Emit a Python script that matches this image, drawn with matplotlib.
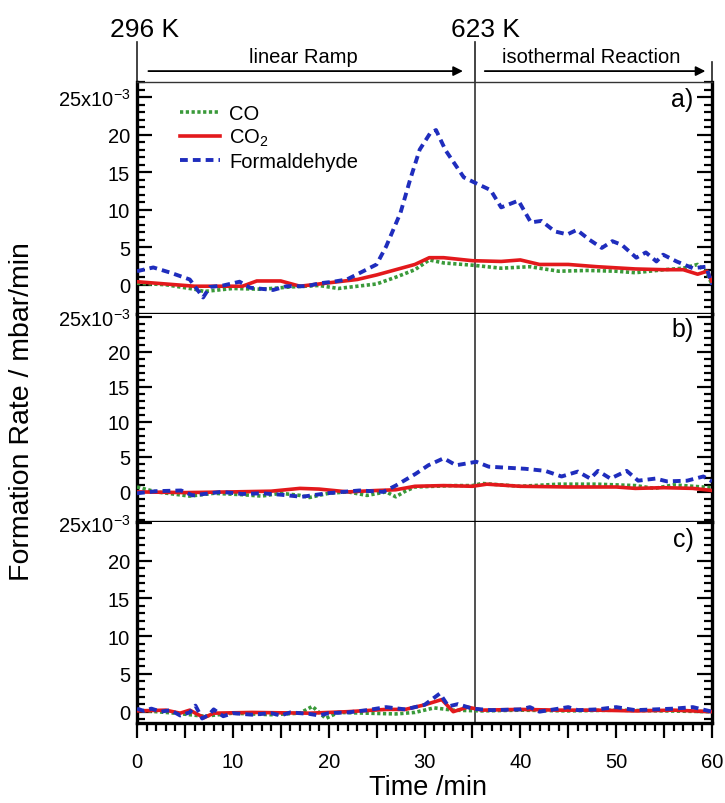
import matplotlib
matplotlib.use("Agg")
import matplotlib.pyplot as plt
from matplotlib.ticker import MultipleLocator, FixedLocator, FixedFormatter, FuncFormatter

plt.rcParams['font.family'] = ['Liberation Sans', 'DejaVu Sans']
plt.rcParams['mathtext.fontset'] = 'custom'
plt.rcParams['mathtext.rm'] = 'Liberation Sans'
plt.rcParams['mathtext.it'] = 'Liberation Sans:italic'
plt.rcParams['mathtext.bf'] = 'Liberation Sans:bold'

# ---- data (values in 1e-3 mbar/min) ----
# panel a
t_a_co = [0, 3, 6, 7, 10, 13, 16, 19, 21, 23, 25, 27, 29, 30.5, 32, 35, 38, 41, 44, 47, 50, 52, 55, 57, 58.5, 59.5, 60]
a_co = [0.2, 0.0, -0.6, -0.9, -0.5, -0.6, -0.3, -0.1, -0.5, -0.2, 0.1, 1.0, 2.0, 3.3, 2.9, 2.6, 2.2, 2.4, 1.8, 1.9, 1.8, 1.6, 2.0, 2.2, 2.7, 1.5, 0.0]
t_a_co2 = [0, 3, 6, 8, 11, 12.5, 15, 17, 19, 21, 23, 25, 27, 29, 30.5, 32, 35, 38, 40, 42, 45, 48, 52, 55, 57, 58.5, 59.5, 60]
a_co2 = [0.4, 0.1, -0.2, -0.2, -0.2, 0.5, 0.5, -0.2, 0.1, 0.4, 0.7, 1.3, 2.0, 2.7, 3.6, 3.6, 3.2, 3.1, 3.3, 2.7, 2.7, 2.4, 2.1, 2.0, 2.0, 1.4, 1.8, 0.4]
t_a_form = [0, 1.7, 3.5, 5.5, 6.9, 7.6, 9, 10.7, 11.8, 14.2, 15.6, 17.7, 19.1, 20.5, 21.9, 23.3, 25, 26, 27.5, 28.5,
            29.5, 30.6, 31.2, 32.2, 34.1, 35.4, 36.9, 38, 39.8, 41.1, 42.2, 43.6, 44.9, 45.9, 47.2, 48.5, 49.6, 50.6,
            52.1, 53.1, 54.2, 54.9, 56.3, 58, 59.4, 60]
a_form = [1.8, 2.3, 1.6, 0.7, -1.7, -0.3, -0.1, 0.4, -0.4, -0.7, -0.2, -0.2, 0.2, 0.4, 0.7, 1.6, 2.7, 5.1, 9.6, 14.0,
          18.0, 20.2, 20.6, 17.9, 14.3, 13.5, 12.6, 10.3, 11.2, 8.3, 8.5, 7.1, 6.7, 7.3, 6.0, 4.9, 5.8, 5.3,
          3.6, 4.3, 3.1, 4.0, 3.1, 2.2, 2.4, 0.0]

# panel b
t_b_co = [0, 2, 5.5, 8, 11, 13, 15, 17, 18, 20, 22, 24, 26, 27, 28, 29, 33, 35, 36, 40, 44, 48, 52, 54, 56, 58, 60]
b_co = [0.7, 0.0, -0.6, -0.2, -0.4, -0.6, -0.2, -0.5, -0.8, -0.2, 0.0, -0.5, 0.0, -0.7, 0.1, 0.7, 0.9, 0.9, 1.2, 0.8, 1.1, 1.1, 0.9, 0.5, 1.0, 0.8, 0.6]
t_b_co2 = [0, 5, 10, 14, 17, 19, 22, 25, 27, 29, 32, 35, 36.5, 40, 45, 50, 52, 55, 58, 60]
b_co2 = [0.0, -0.1, 0.0, 0.1, 0.5, 0.4, 0.0, 0.2, 0.3, 0.8, 0.9, 0.8, 1.1, 0.8, 0.7, 0.7, 0.5, 0.6, 0.5, 0.2]
t_b_form = [0, 2, 4.6, 5.8, 8.8, 11, 13, 15, 17.2, 19.8, 23.2, 25.7, 27, 29.1, 30.4, 32, 33.3, 35.4, 36.7, 40.5,
            42.6, 44.3, 46, 47.3, 48.1, 49.4, 51.1, 52.3, 54.1, 55.3, 57.4, 59.1, 60]
b_form = [-0.2, 0.1, 0.2, -0.5, 0.0, -0.3, -0.2, -0.4, -0.7, -0.2, 0.2, 0.0, 0.9, 2.6, 3.8, 4.8, 3.8, 4.3, 3.6, 3.3,
          3.0, 2.2, 2.9, 1.9, 3.0, 1.9, 3.0, 1.6, 1.9, 1.5, 1.6, 2.2, 1.5]

# panel c
t_c_co = [0, 4, 7, 10, 14, 17, 18.3, 19.7, 21, 24, 27, 29, 31, 33, 36, 40, 45, 50, 55, 60]
c_co = [0.2, -0.2, -0.6, -0.2, -0.4, -0.2, 0.7, -0.9, -0.1, -0.2, -0.3, -0.1, 0.5, 0.2, 0.1, 0.2, 0.1, 0.2, 0.1, 0.0]
t_c_co2 = [0, 3, 4.5, 5.5, 7, 8, 12, 18, 22, 26, 28, 30, 31.8, 33, 34.5, 36, 40, 44, 48, 52, 56, 60]
c_co2 = [0.1, 0.2, -0.2, 0.2, -0.8, -0.2, -0.1, -0.2, 0.0, 0.3, 0.3, 0.9, 1.6, 0.0, 0.6, 0.2, 0.3, 0.2, 0.2, 0.1, 0.2, 0.0]
t_c_form = [0, 0.7, 1.5, 2.5, 3.5, 4.5, 5.5, 6.1, 6.8, 7.5, 8, 9, 10, 12, 14, 15, 16, 18, 19, 20, 22, 24, 26, 28, 30,
            31.6, 32.5, 33.5, 35, 37, 40, 41, 42, 45, 46, 48, 50, 52, 54, 56, 58, 60]
c_form = [0.4, 0.1, 0.4, 0.0, 0.2, -0.5, -0.1, 0.8, -0.9, -0.4, 0.3, -0.6, -0.2, -0.4, -0.2, -0.5, -0.1, -0.3, -0.5, -0.2, -0.1, 0.2, 0.6, 0.3, 0.9,
          2.4, 0.7, 1.0, 0.4, 0.2, 0.3, 0.6, 0.0, 0.6, 0.2, 0.3, 0.6, 0.2, 0.3, 0.4, 0.6, 0.0]

t_switch = 35.3
panel_labels = ['a)', 'b)', 'c)']
ytick_vals = [0, 5, 10, 15, 20, 25]
ytick_text = ['0', '5', '10', '15', '20', '25x10$^{\\mathregular{-3}}$']

green = '#3a9a3a'
red = '#e3191c'
blue = '#1f2dbd'

fig = plt.figure(figsize=(7.25, 8.04), dpi=100)
L, R = 137 / 725, 712 / 725
H = 804.0
edges = [83, 315, 523, 724]
ylims = [(-3.9, 27.0), (-4.3, 25.4), (-1.5, 25.1)]
series = [
    (t_a_co, a_co, t_a_co2, a_co2, t_a_form, a_form),
    (t_b_co, b_co, t_b_co2, b_co2, t_b_form, b_form),
    (t_c_co, c_co, t_c_co2, c_co2, t_c_form, c_form),
]
axes = []
for i in range(3):
    bottom = 1 - edges[i + 1] / H
    height = (edges[i + 1] - edges[i]) / H
    ax = fig.add_axes([L, bottom, R - L, height])
    axes.append(ax)
    tco, co, tco2, co2, tf, fo = series[i]
    ax.plot(tco, co, color=green, lw=2.6, ls=(0, (0.9, 0.7)), label='CO', zorder=3)
    ax.plot(tco2, co2, color=red, lw=2.6, label='CO$_2$', zorder=4)
    ax.plot(tf, fo, color=blue, lw=2.8, ls=(0, (2.0, 1.3)), label='Formaldehyde', zorder=5)
    ax.axvline(t_switch, color='#333333', lw=1.2, zorder=1)
    ax.set_xlim(0, 60)
    ax.set_ylim(*ylims[i])
    ax.yaxis.set_major_locator(FixedLocator(ytick_vals))
    ax.yaxis.set_major_formatter(FixedFormatter(ytick_text))
    ax.yaxis.set_minor_locator(MultipleLocator(1))
    ax.tick_params(axis='y', which='both', direction='in', left=True, right=True, width=1.6, labelsize=14.5, pad=5)
    ax.tick_params(axis='y', which='major', length=11)
    ax.tick_params(axis='y', which='minor', length=6)
    for s in ['left', 'right', 'bottom', 'top']:
        ax.spines[s].set_linewidth(2.4)
    if i == 0:
        ax.spines['top'].set_linewidth(1.0)
        ax.spines['top'].set_color('#333333')
    else:
        ax.spines['top'].set_visible(False)
    ax.text(0.968, [0.927, 0.928, 0.915][i], panel_labels[i], transform=ax.transAxes,
            ha='right', va='center', fontsize=18)
    if i < 2:
        ax.tick_params(axis='x', which='both', bottom=False, labelbottom=False)

axc = axes[2]
axc.xaxis.set_major_locator(MultipleLocator(5))
axc.xaxis.set_minor_locator(MultipleLocator(1))
axc.xaxis.set_major_formatter(FuncFormatter(lambda v, p: '%d' % v if int(round(v)) % 10 == 0 else ''))
axc.tick_params(axis='x', which='both', direction='out', width=1.6, labelsize=14.5, pad=10)
axc.tick_params(axis='x', which='major', length=11)
axc.tick_params(axis='x', which='minor', length=6)

# legend
axa = axes[0]
axa.legend(loc='upper left', bbox_to_anchor=(0.075, 0.905), frameon=False, fontsize=14.5,
           handlelength=2.0, handletextpad=0.45, labelspacing=0.2, borderpad=0, borderaxespad=0)

# annotations above panel a
tr = axa.get_xaxis_transform()
for x, ytop in [(0, 1.172), (t_switch, 1.172), (60, 1.086)]:
    axa.plot([x, x], [1.0, ytop], transform=tr, color='#222222', lw=1.2, clip_on=False)
axa.annotate('', xy=(34.3, 1.047), xytext=(0.9, 1.047), xycoords=tr, textcoords=tr,
             arrowprops=dict(arrowstyle='-|>', color='black', lw=1.3, mutation_scale=14))
axa.annotate('', xy=(59.6, 1.047), xytext=(36.0, 1.047), xycoords=tr, textcoords=tr,
             arrowprops=dict(arrowstyle='-|>', color='black', lw=1.3, mutation_scale=14))
axa.text(17.4, 1.108, 'linear Ramp', transform=tr, ha='center', va='center', fontsize=14.5)
axa.text(47.4, 1.108, 'isothermal Reaction', transform=tr, ha='center', va='center', fontsize=14.5)
axa.text(0.8, 1.228, '296 K', transform=tr, ha='center', va='center', fontsize=19)
axa.text(36.4, 1.228, '623 K', transform=tr, ha='center', va='center', fontsize=19)

fig.text(22 / 725, 1 - 412 / H, 'Formation Rate / mbar/min', rotation=90, ha='center', va='center', fontsize=20.5)
fig.text(0.59, 1 - 788 / H, 'Time /min', ha='center', va='center', fontsize=19.5)

fig.savefig('out.png', dpi=100)
